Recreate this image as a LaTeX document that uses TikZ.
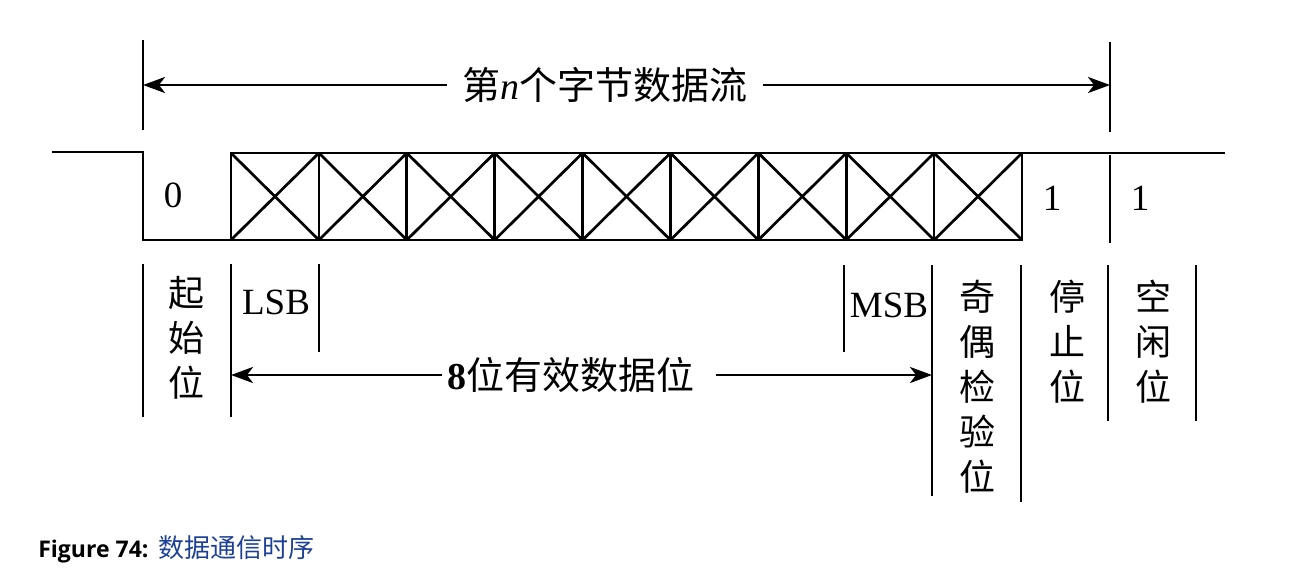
\documentclass[tikz,border=0pt]{standalone}
\usepackage{fontspec}
\setmainfont{Liberation Serif}
\newfontfamily\cjk{Noto Sans CJK SC}
\newfontfamily\capfont{Open Sans}
\usetikzlibrary{arrows.meta}
\definecolor{capblue}{RGB}{30,64,150}
\begin{document}
\begin{tikzpicture}[x=0.5pt,y=-0.5pt, line width=1.35pt,
  lbl/.style={inner sep=0pt, font=\fontsize{18.5}{20}\selectfont},
  vlab/.style={inner sep=0pt, font=\cjk\fontsize{18}{22.5}\selectfont, align=center},
  arr/.style={-{Stealth[length=11pt,width=8pt,inset=3pt]}},
  tick/.style={line width=1.35pt},
]
\useasboundingbox (0,0) rectangle (1311,580);

% top span
\draw[tick] (143,40) -- (143,130);
\draw[tick] (1110,42) -- (1110,132);
\coordinate (tl) at (143,85);
\coordinate (tr) at (1110,85);
\node[inner sep=0pt, inner xsep=7pt, font=\cjk\fontsize{19}{20}\selectfont] (title) at (605,85)
  {第{\rmfamily\itshape n}个字节数据流};
\draw[arr] (title) -- (tl);
\draw[arr] (title) -- (tr);

% waveform
\draw (52,152) -- (143,152) -- (143,240) -- (1022,240) -- (1022,153) -- (1225,153);
\draw (231,153) rectangle (1022,240);
\foreach \i in {0,...,8} {
  \pgfmathsetmacro{\xa}{231+\i*87.889}
  \pgfmathsetmacro{\xb}{231+(\i+1)*87.889}
  \draw (\xa,153) -- (\xa,240);
  \draw (\xa,153) -- (\xb,240);
  \draw (\xa,240) -- (\xb,153);
}
\draw[tick] (1110,155) -- (1110,243);
\node[lbl] (b0) at (173,195) {0};
\node[lbl] (b1) at (1052,198) {1};
\node[lbl] (b2) at (1140,198) {1};

% lower separators
\draw[tick] (143,264) -- (143,417);
\draw[tick] (231,264) -- (231,417);
\draw[tick] (319,264) -- (319,352);
\draw[tick] (844,265) -- (844,352);
\draw[tick] (932,265) -- (932,496);
\draw[tick] (1021,265) -- (1021,502);
\draw[tick] (1108,265) -- (1108,421);
\draw[tick] (1196,265) -- (1196,421);

% labels
\node[vlab] (start) at (186,338) {起\\始\\位};
\node[lbl] (lsb) at (276,302) {LSB};
\node[lbl] (msb) at (889,305) {MSB};
\node[vlab] (parity) at (977,387) {奇\\偶\\检\\验\\位};
\node[vlab] (stop) at (1067,342) {停\\止\\位};
\node[vlab] (idle) at (1153,342) {空\\闲\\位};

% data arrow
\coordinate (dl) at (231,375);
\coordinate (dr) at (932,375);
\node[inner sep=0pt, inner xsep=2pt, font=\cjk\fontsize{19}{20}\selectfont] (data) at (571,375)
  {{\rmfamily\bfseries 8}位有效数据位};
\draw[arr] (data) -- (dl);
\draw[arr] ([xshift=8pt]data.east) -- (dr);

% caption
\node[anchor=base west, inner sep=0pt] (cap) at (37,557)
  {{\capfont\bfseries\fontsize{11.5}{14}\selectfont Figure 74:}\hspace{5pt}{\cjk\fontsize{13}{14}\selectfont\color{capblue}数据通信时序}};
\end{tikzpicture}
\end{document}
